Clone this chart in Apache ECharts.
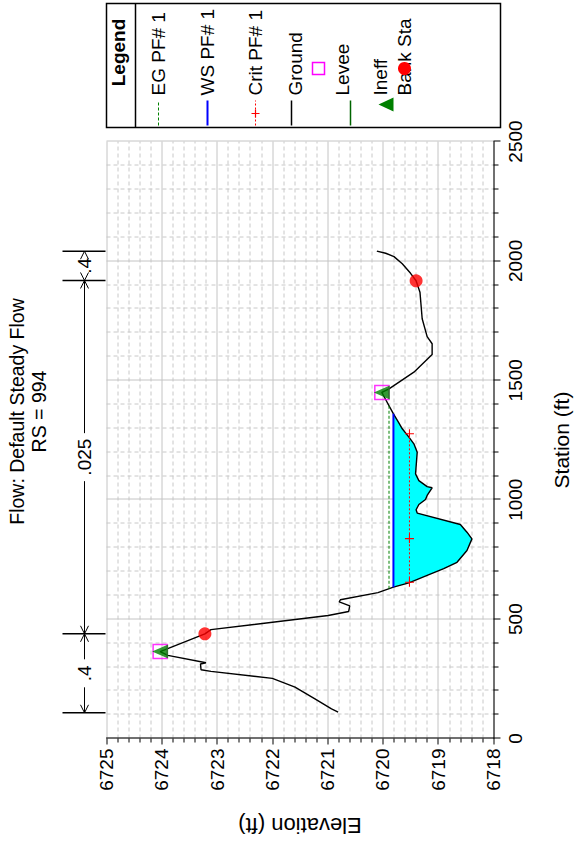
<!DOCTYPE html>
<html><head><meta charset="utf-8">
<script src="https://cdn.jsdelivr.net/npm/echarts@6/dist/echarts.min.js"></script>
<style>
html,body{margin:0;padding:0;width:576px;height:851px;overflow:hidden;background:#fff;}
#wrap{position:absolute;left:-137.5px;top:137.5px;width:851px;height:576px;transform:rotate(-90deg);transform-origin:50% 50%;background:#fff;}
</style></head><body><div id="wrap"></div>
<script>
// ---- data (HEC-RAS cross section RS = 994) ----
const titleLines = ['Flow: Default Steady Flow', 'RS = 994'];
const stationTicks = [0, 500, 1000, 1500, 2000, 2500];
const elevTicks = [6718, 6719, 6720, 6721, 6722, 6723, 6724, 6725];
const groundSta = [110,124,166,215,252,281,288,312,317,348,364,438,456,515,532,555,572,581,611,633.6,652,683,711,738,787,836,864,896,944,958,980,1001,1018,1050,1055,1080,1108,1199,1234,1262,1297,1325,1359.7,1449,1464,1534,1608,1653,1683,1758,1869,1917,1948,1988,2018,2032,2041];
const groundElev = [6720.81,6720.93,6721.23,6721.59,6722.00,6723.11,6723.29,6723.30,6723.20,6723.89,6724.03,6723.22,6723.11,6720.99,6720.62,6720.60,6720.79,6720.77,6720.09,6719.81,6719.53,6719.20,6718.90,6718.66,6718.48,6718.39,6718.48,6718.60,6719.38,6719.40,6719.35,6719.23,6719.20,6719.11,6719.20,6719.35,6719.41,6719.38,6719.44,6719.53,6719.65,6719.72,6719.81,6720.02,6719.89,6719.44,6719.11,6719.11,6719.20,6719.29,6719.33,6719.40,6719.50,6719.65,6719.80,6719.95,6720.11];
const wsElev = 6719.81;
const wsSta = [633.6, 1359.7];
const egElev = 6719.89;
const egSta = [627, 1400];
const critElev = 6719.52;
const critSta = [654, 837, 1276];
const leveeSta = [364, 1449];
const leveeElev = [6724.03, 6720.02];
const ineffSta = [364, 1449];
const ineffElev = [6724.03, 6720.02];
const bankSta = [438.4, 1916.6];
const bankElev = [6723.22, 6719.40];
const nBreakSta = [107.6, 438.4, 1918, 2040.6];
const nValues = ['.4', '.025', '.4'];
const legendNames = ['EG PF# 1', 'WS PF# 1', 'Crit PF# 1', 'Ground', 'Levee', 'Ineff', 'Bank Sta'];

// ---- build ----
const FONT = '"Liberation Sans", Arial, sans-serif';
const zip = (a, b) => a.map((v, i) => [v, b[i]]);
const groundData = zip(groundSta, groundElev);
const waterGround = groundData.filter(p => p[0] >= wsSta[0] && p[0] <= wsSta[1]);
const plusPath = 'path://M-0.6,-5L0.6,-5L0.6,-0.6L5,-0.6L5,0.6L0.6,0.6L0.6,5L-0.6,5L-0.6,0.6L-5,0.6L-5,-0.6L-0.6,-0.6Z';

const chart = echarts.init(document.getElementById('wrap'), null, {renderer: 'svg', width: 851, height: 576});
const grid = {left: 113, right: 141, top: 106, bottom: 79};
const option = {
  animation: false,
  backgroundColor: '#fff',
  grid: grid,
  xAxis: {
    type: 'value', min: stationTicks[0], max: stationTicks[stationTicks.length - 1], interval: 500,
    name: 'Station (ft)', nameLocation: 'middle', nameGap: 57,
    nameTextStyle: {fontFamily: FONT, fontSize: 21, color: '#000'},
    axisLine: {show: true, onZero: false, lineStyle: {color: '#000', width: 1}},
    axisTick: {show: true, length: 7, lineStyle: {color: '#000'}},
    minorTick: {show: true, splitNumber: 5, length: 5, lineStyle: {color: '#000'}},
    axisLabel: {fontFamily: FONT, fontSize: 19, color: '#000', margin: 12, formatter: v => String(v)},
    splitLine: {show: true, lineStyle: {color: '#c4c4c4', width: 1}},
    minorSplitLine: {show: true, lineStyle: {color: '#c8c8c8', width: 1, type: [4, 3]}}
  },
  yAxis: {
    type: 'value', min: elevTicks[0], max: elevTicks[elevTicks.length - 1], interval: 1,
    name: 'Elevation (ft)', nameLocation: 'middle', nameGap: 76, nameRotate: 90,
    nameTextStyle: {fontFamily: FONT, fontSize: 22, color: '#000'},
    axisLine: {show: true, onZero: false, lineStyle: {color: '#000', width: 1}},
    axisTick: {show: true, length: 6, lineStyle: {color: '#000'}},
    minorTick: {show: true, splitNumber: 5, length: 4, lineStyle: {color: '#000'}},
    axisLabel: {fontFamily: FONT, fontSize: 19, color: '#000', margin: 10, formatter: v => String(v)},
    splitLine: {show: true, lineStyle: {color: '#c4c4c4', width: 1}},
    minorSplitLine: {show: true, lineStyle: {color: '#c8c8c8', width: 1, type: [4, 3]}}
  },
  series: [
    {
      name: 'water', type: 'custom', z: 2, silent: true,
      data: [0],
      renderItem: function (params, api) {
        const pts = [api.coord([wsSta[0], wsElev]), api.coord([wsSta[1], wsElev])];
        for (let i = waterGround.length - 1; i >= 0; i--) pts.push(api.coord(waterGround[i]));
        return {type: 'polygon', shape: {points: pts}, style: {fill: '#00ffff', stroke: null}};
      }
    },
    {name: 'Ground', type: 'line', data: groundData, symbol: 'none', z: 3,
     lineStyle: {color: '#000', width: 1.4}},
    {name: 'EG PF# 1', type: 'line', data: egSta.map(s => [s, egElev]), symbol: 'none', z: 4,
     lineStyle: {color: '#008000', width: 1, type: [3, 2]}},
    {name: 'WS PF# 1', type: 'line', data: wsSta.map(s => [s, wsElev]), symbol: 'none', z: 5,
     lineStyle: {color: '#0000ff', width: 2}},
    {name: 'Crit PF# 1', type: 'line', data: critSta.map(s => [s, critElev]), z: 6,
     symbol: plusPath, symbolSize: 9, showAllSymbol: true,
     itemStyle: {color: '#ff0000'}, lineStyle: {color: '#ff0000', width: 1, type: [2, 2]}},
    {name: 'Levee', type: 'scatter', data: zip(leveeSta, leveeElev), z: 7,
     symbol: 'rect', symbolSize: [14, 14],
     itemStyle: {color: 'rgba(0,0,0,0)', borderColor: '#ff00ff', borderWidth: 1.5}},
    {name: 'Ineff', type: 'scatter', data: zip(ineffSta, ineffElev), z: 8,
     symbol: 'triangle', symbolSize: [14, 16], itemStyle: {color: '#008000'}},
    {name: 'Bank Sta', type: 'scatter', data: zip(bankSta, bankElev), z: 9,
     symbol: 'circle', symbolSize: 13, itemStyle: {color: '#ff0000'}}
  ]
};
chart.setOption(option);

// ---- overlay: title, n-value brackets, legend ----
const g = [];
g.push({type: 'text', x: 440, y: 16, style: {text: titleLines[0], font: '19.5px ' + FONT, fill: '#000', textAlign: 'center', textVerticalAlign: 'middle'}});
g.push({type: 'text', x: 440, y: 38, style: {text: titleLines[1], font: '19.5px ' + FONT, fill: '#000', textAlign: 'center', textVerticalAlign: 'middle'}});

const topY = chart.convertToPixel({gridIndex: 0}, [0, elevTicks[elevTicks.length - 1]])[1];
const brY0 = topY - 44, brY1 = topY - 1, arrY = topY - 22;
const bx = nBreakSta.map(s => chart.convertToPixel({gridIndex: 0}, [s, elevTicks[0]])[0]);
const lineStyle = {stroke: '#000', lineWidth: 1};
bx.forEach(x => g.push({type: 'line', shape: {x1: x, y1: brY0, x2: x, y2: brY1}, style: {stroke: '#000', lineWidth: 1.5}}));
for (let i = 0; i < nValues.length; i++) {
  const a = bx[i], b = bx[i + 1], m = (a + b) / 2;
  const tw = nValues[i].length * 10 + 8;
  if (b - a > tw + 4) {
    g.push({type: 'line', shape: {x1: a, y1: arrY, x2: m - tw / 2, y2: arrY}, style: lineStyle});
    g.push({type: 'line', shape: {x1: m + tw / 2, y1: arrY, x2: b, y2: arrY}, style: lineStyle});
  }
  g.push({type: 'polyline', shape: {points: [[a + 8, arrY - 4], [a, arrY], [a + 8, arrY + 4]]}, style: {stroke: '#000', lineWidth: 1, fill: null}});
  g.push({type: 'polyline', shape: {points: [[b - 8, arrY - 4], [b, arrY], [b - 8, arrY + 4]]}, style: {stroke: '#000', lineWidth: 1, fill: null}});
  g.push({type: 'text', x: m, y: arrY, style: {text: nValues[i], font: '19px ' + FONT, fill: '#000', textAlign: 'center', textVerticalAlign: 'middle'}});
}

// legend box (right side)
const LX = 724, LY = 106, LW = 124, LH = 394;
g.push({type: 'rect', shape: {x: LX, y: LY, width: LW, height: LH}, style: {fill: '#fff', stroke: '#000', lineWidth: 1.5}});
g.push({type: 'text', x: LX + 75, y: LY + 12, style: {text: 'Legend', font: 'bold 19px ' + FONT, fill: '#000', textAlign: 'center', textVerticalAlign: 'middle'}});
g.push({type: 'line', shape: {x1: LX, y1: LY + 29, x2: LX + LW, y2: LY + 29}, style: {stroke: '#000', lineWidth: 1.5}});
const rows = [52, 101, 149, 189, 236, 274, 298];
legendNames.forEach((nm, i) => {
  const y = LY + rows[i];
  g.push({type: 'text', x: LX + 32, y: y, style: {text: nm, font: '19px ' + FONT, fill: '#000', textAlign: 'left', textVerticalAlign: 'middle'}});
});
const sx0 = LX + 2, sx1 = LX + 27, sxm = LX + 14;
g.push({type: 'line', shape: {x1: sx0, y1: LY + rows[0], x2: sx1, y2: LY + rows[0]}, style: {stroke: '#008000', lineWidth: 1, lineDash: [3, 2]}});
g.push({type: 'line', shape: {x1: sx0, y1: LY + rows[1], x2: sx1, y2: LY + rows[1]}, style: {stroke: '#0000ff', lineWidth: 2}});
g.push({type: 'line', shape: {x1: sx0, y1: LY + rows[2], x2: sx1, y2: LY + rows[2]}, style: {stroke: '#ff0000', lineWidth: 1, lineDash: [2, 2]}});
g.push({type: 'line', shape: {x1: sxm - 4, y1: LY + rows[2], x2: sxm + 4, y2: LY + rows[2]}, style: {stroke: '#ff0000', lineWidth: 1.2}});
g.push({type: 'line', shape: {x1: sxm, y1: LY + rows[2] - 4, x2: sxm, y2: LY + rows[2] + 4}, style: {stroke: '#ff0000', lineWidth: 1.2}});
g.push({type: 'line', shape: {x1: sx0, y1: LY + rows[3] - 4, x2: sx1, y2: LY + rows[3] - 4}, style: {stroke: '#000', lineWidth: 1.5}});
g.push({type: 'rect', shape: {x: LX + 53, y: LY + 206, width: 12, height: 12}, style: {fill: null, stroke: '#ff00ff', lineWidth: 1.5}});
g.push({type: 'line', shape: {x1: sx0, y1: LY + 244, x2: sx1, y2: LY + 244}, style: {stroke: '#006400', lineWidth: 1.5}});
// legend triangle oriented like the plot marker
const ty = LY + rows[5] + 6, tx = sxm + 9;
g.push({type: 'polygon', shape: {points: [[tx, ty - 8], [tx - 7, ty + 7], [tx + 7, ty + 7]]}, style: {fill: '#008000'}});
g.push({type: 'circle', shape: {cx: LX + 59, cy: LY + 298, r: 6.5}, style: {fill: '#ff0000'}});
chart.setOption({graphic: {elements: g}});
</script>
</body></html>
